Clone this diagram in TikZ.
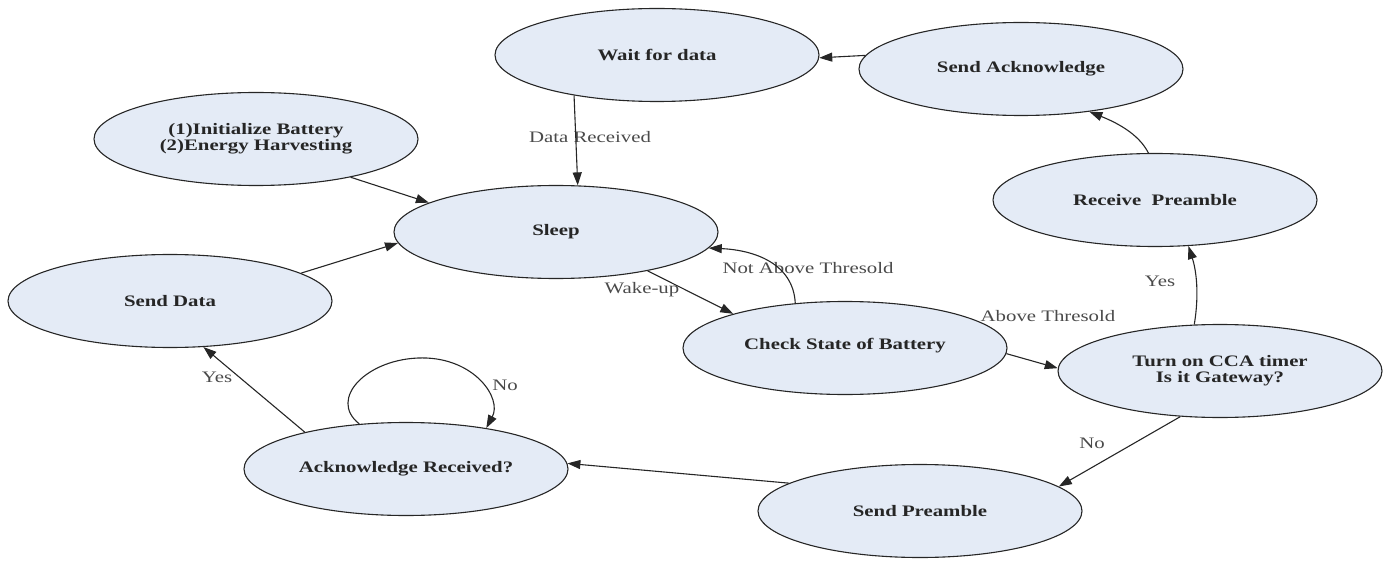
\documentclass[tikz,border=0pt]{standalone}
\usepackage{fontspec}
\setmainfont{Liberation Serif}
\usepackage{graphicx}
\usetikzlibrary{shapes.geometric,arrows.meta}
\definecolor{nodefill}{HTML}{E4EBF6}
\definecolor{edgecol}{HTML}{262626}
\definecolor{lblcol}{HTML}{4A4A4A}
\newcommand{\wtxt}[1]{\scalebox{1.3}[1]{#1}}
\newcommand{\wtwo}[2]{\scalebox{1.3}[1]{\begin{tabular}{@{}c@{}}#1\\#2\end{tabular}}}
\begin{document}
\begin{tikzpicture}[x=1pt,y=-1pt,
  state/.style={ellipse, draw=black!85, line width=1.1pt, fill=nodefill,
    minimum width=324pt, minimum height=93pt, inner sep=0pt,
    font=\bfseries\fontsize{16}{16.5}\selectfont, text=black!85},
  edge/.style={draw=edgecol, line width=1.1pt, -{Triangle[length=13pt,width=9pt]}},
  lbl/.style={font=\fontsize{16}{17}\selectfont, text=lblcol, inner sep=0pt}]
\useasboundingbox (0,0) rectangle (1391,561);

% states
\node[state] (wait)  at (657,55)  {\wtxt{Wait for data}};
\node[state] (ack)   at (1021,69) {\wtxt{Send Acknowledge}};
\node[state] (init)  at (256,139) {\wtwo{(1)Initialize Battery}{(2)Energy Harvesting}};
\node[state] (sleep) at (556,232) {\wtxt{Sleep}};
\node[state] (recv)  at (1155,200) {\wtxt{Receive\ \ Preamble}};
\node[state] (send)  at (170,301) {\wtxt{Send Data}};
\node[state] (check) at (845,348) {\raisebox{8pt}{\wtxt{Check State of Battery}}};
\node[state] (cca)   at (1220,371) {\wtwo{Turn on CCA timer}{Is it Gateway?}};
\node[state] (ackr)  at (406,469) {\wtxt{Acknowledge Received?}};
\node[state] (pre)   at (920,511) {\wtxt{Send Preamble}};

% labels
\node[lbl] (lDR)  at (590,137) {\wtxt{Data Received}};
\node[lbl] (lWU)  at (642,290) {\wtxt{Wake-up}};
\node[lbl] (lNAT) at (808,268) {\wtxt{Not Above Thresold}};
\node[lbl] (lAT)  at (1048,316) {\wtxt{Above Thresold}};
\node[lbl] (lY1)  at (1160,281) {\wtxt{Yes}};
\node[lbl] (lN1)  at (1092,443) {\wtxt{No}};
\node[lbl] (lN2)  at (505,385) {\wtxt{No}};
\node[lbl] (lY2)  at (217,377) {\wtxt{Yes}};

% edges
\draw[edge] (wait.206) -- (sleep.65);
\draw[edge] (init.338) -- (sleep.167);
\draw[edge] (send.12) -- (sleep.184);
\draw[edge] (sleep.337) -- (check.163);
\draw[edge] (check.138) .. controls +(-2,-40) and +(45,2) .. (sleep.354);
\draw[edge] (check.358) -- (cca.179);
\draw[edge] (cca.119) .. controls +(5,-30) and +(8,25) .. (recv.306);
\draw[edge] (recv.98) .. controls +(-10,-20) and +(25,10) .. (ack.328);
\draw[edge] (ack.175) -- (wait.-1);
\draw[edge] (cca.229) -- (pre.10);
\draw[edge] (pre.168) -- (ackr.2);
\draw[edge] (ackr.136) .. controls +(-32,-25) and +(-55,0) .. ++(63,-66)
  .. controls +(52,0) and +(16,-30) .. (ackr.27);
\draw[edge] (ackr.160) -- (send.306);
\end{tikzpicture}
\end{document}
